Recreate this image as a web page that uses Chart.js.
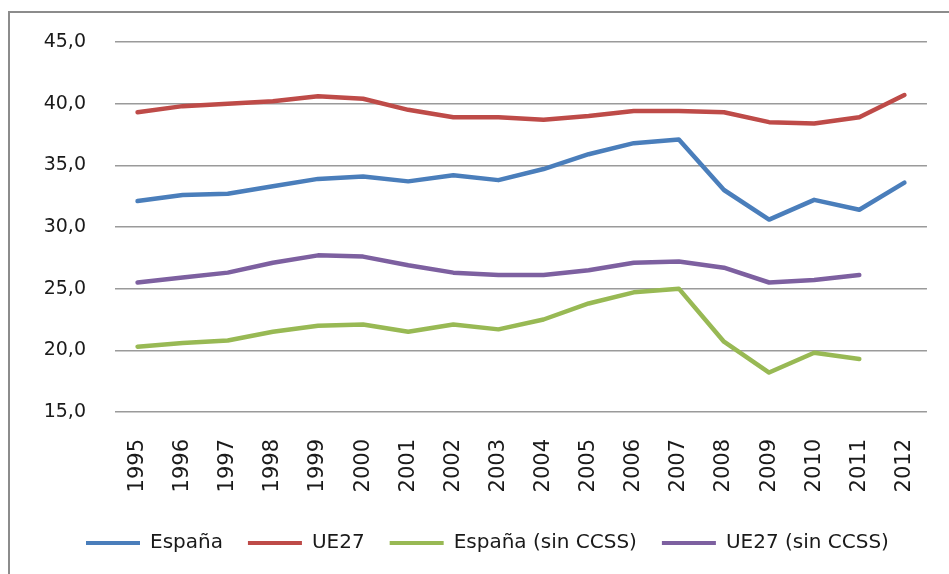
<!DOCTYPE html>
<html>
<head>
<meta charset="utf-8">
<script src="https://cdn.jsdelivr.net/npm/chart.js@4/dist/chart.umd.min.js"></script>
<style>
  body { margin: 0; background: #fff; overflow: hidden; }
  .wrap { position: relative; width: 949px; height: 574px; overflow: hidden; }
  .frame {
    position: absolute; left: 8px; top: 11px; width: 1000px; height: 700px;
    border-left: 2px solid #8c8c8c; border-top: 2px solid #8c8c8c;
  }
  canvas { position: absolute; left: 0; top: 0; }
</style>
</head>
<body>
<div class="wrap">
  <div class="frame"></div>
  <canvas id="myChart" width="949" height="574"></canvas>
</div>
<script>
const years = ['1995', '1996', '1997', '1998', '1999', '2000', '2001', '2002', '2003',
    '2004', '2005', '2006', '2007', '2008', '2009', '2010', '2011', '2012'];

const espana = [32.1, 32.6, 32.7, 33.3, 33.9, 34.1, 33.7, 34.2, 33.8,
    34.7, 35.9, 36.8, 37.1, 33.0, 30.6, 32.2, 31.4, 33.6];
const ue27 = [39.3, 39.8, 40.0, 40.2, 40.6, 40.4, 39.5, 38.9, 38.9,
    38.7, 39.0, 39.4, 39.4, 39.3, 38.5, 38.4, 38.9, 40.7];
const espanaSinCcss = [20.3, 20.6, 20.8, 21.5, 22.0, 22.1, 21.5, 22.1, 21.7,
    22.5, 23.8, 24.7, 25.0, 20.7, 18.2, 19.8, 19.3, null];
const ue27SinCcss = [25.5, 25.9, 26.3, 27.1, 27.7, 27.6, 26.9, 26.3, 26.1,
    26.1, 26.5, 27.1, 27.2, 26.7, 25.5, 25.7, 26.1, null];

const yTicks = [15, 20, 25, 30, 35, 40, 45];

const line = function (label, data, color) {
    return {
        label: label,
        data: data,
        borderColor: color,
        backgroundColor: color,
        borderWidth: 4.5,
        pointRadius: 0,
        tension: 0,
        borderJoinStyle: 'round',
        borderCapStyle: 'round',
        spanGaps: false,
    }
}

// legend starts further right than the layout box gives it
const legendShift = {
    id: 'legendShift',
    afterLayout: function (chart) {
        chart.legend.left = 61;
    }
}

var ctx = document.getElementById('myChart').getContext('2d');
new Chart(ctx, {
    type: 'line',
    data: {
        labels: years,
        datasets: [
            line('España', espana, '#4a7ebb'),
            line('UE27', ue27, '#be4b48'),
            line('España (sin CCSS)', espanaSinCcss, '#98b954'),
            line('UE27 (sin CCSS)', ue27SinCcss, '#7d60a0'),
        ]
    },
    plugins: [legendShift],
    options: {
        responsive: false,
        animation: false,
        layout: { padding: { left: 0, right: 14, top: 42, bottom: 11 } },
        plugins: {
            tooltip: { enabled: false },
            legend: {
                position: 'bottom',
                align: 'start',
                labels: {
                    boxWidth: 54,
                    boxHeight: 4,
                    padding: 25,
                    color: '#1a1a1a',
                    font: { family: '"DejaVu Sans"', size: 20 },
                    generateLabels: function (chart) {
                        return chart.data.datasets.map((ds, i) => ({
                            text: ds.label,
                            fillStyle: ds.borderColor,
                            strokeStyle: ds.borderColor,
                            lineWidth: 0,
                            fontColor: '#1a1a1a',
                            datasetIndex: i,
                        }))
                    }
                }
            }
        },
        scales: {
            x: {
                offset: true,
                grid: { display: false },
                border: { display: false },
                afterFit: function (s) { s.height = 96; },
                ticks: {
                    minRotation: 90,
                    maxRotation: 90,
                    autoSkip: false,
                    padding: 19,
                    color: '#1a1a1a',
                    font: { family: '"DejaVu Sans"', size: 21 },
                }
            },
            y: {
                min: 15,
                max: 45,
                afterFit: function (s) { s.width = 115; },
                afterBuildTicks: function (s) { s.ticks = yTicks.map((v) => ({ value: v })); },
                border: { display: false },
                grid: { color: '#9a9a9a', lineWidth: 1.5, drawTicks: false },
                ticks: {
                    padding: 29,
                    color: '#1a1a1a',
                    font: { family: '"DejaVu Sans"', size: 19 },
                    callback: function (v) { return v.toFixed(1).replace('.', ','); }
                }
            }
        }
    }
});
</script>
</body>
</html>
